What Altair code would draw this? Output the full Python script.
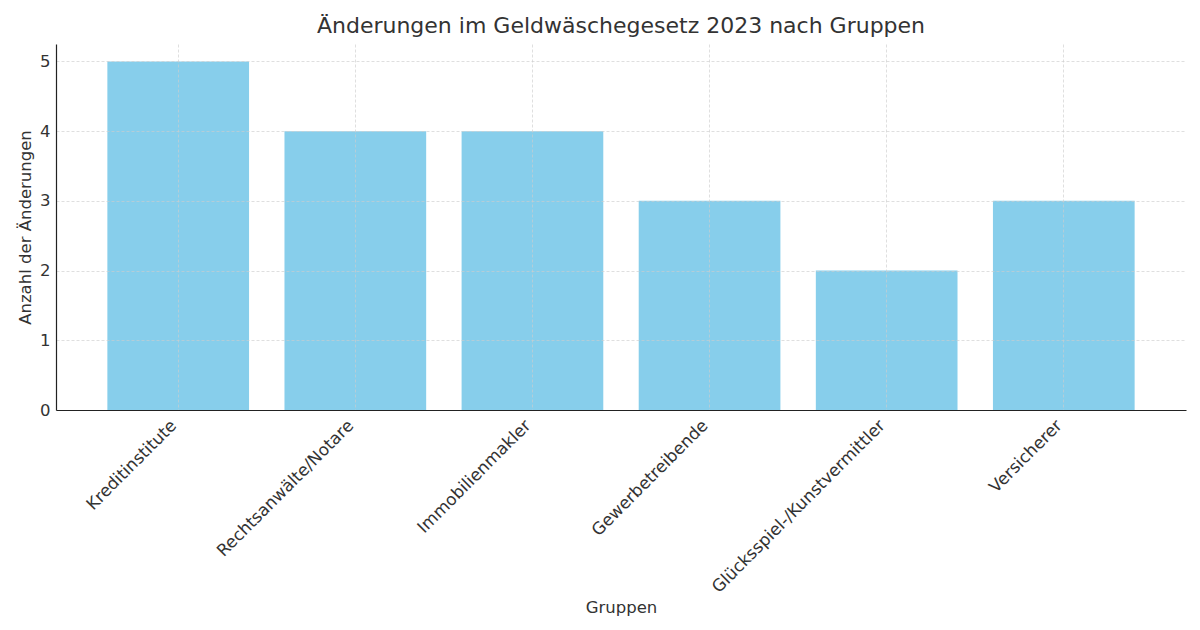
import altair as alt
import pandas as pd

gruppen = ["Kreditinstitute", "Rechtsanwälte/Notare", "Immobilienmakler",
           "Gewerbetreibende", "Glücksspiel-/Kunstvermittler", "Versicherer"]
anzahl = [5, 4, 4, 3, 2, 3]

df = pd.DataFrame({"Gruppe": gruppen, "Anzahl": anzahl})

FONT = "DejaVu Sans"
TXT = "#333333"
FS = 16.5

chart = alt.Chart(df).mark_bar(color="#87CEEB").encode(
    x=alt.X("Gruppe:N", sort=gruppen,
            scale=alt.Scale(paddingInner=0.2, paddingOuter=0.29),
            axis=alt.Axis(title="Gruppen", labelAngle=-45, labelAlign="right",
                          labelBaseline="top", labelFontSize=16.8, labelColor=TXT,
                          labelPadding=7, labelOffset=-10, labelLimit=0,
                          ticks=False, bandPosition=0.5,
                          grid=True, gridDash=[3, 2], gridColor="#cccccc",
                          gridOpacity=0.8, gridWidth=0.8,
                          domainColor="#222222", domainWidth=1.2,
                          titleFontSize=FS, titleFontWeight="normal", titleColor=TXT,
                          titleX=565, titleY=197, titleBaseline="middle",
                          titleAlign="center", zindex=1)),
    y=alt.Y("Anzahl:Q", scale=alt.Scale(domain=[0, 5.25], nice=False),
            axis=alt.Axis(title="Anzahl der Änderungen", values=[0, 1, 2, 3, 4, 5],
                          labelFontSize=FS, labelColor=TXT, labelPadding=6,
                          ticks=False, grid=True, gridDash=[3, 2],
                          gridColor="#cccccc", gridOpacity=0.8, gridWidth=0.8,
                          domainColor="#222222", domainWidth=1.2,
                          titleFontSize=FS, titleFontWeight="normal", titleColor=TXT,
                          titleX=-31, titleY=183, titleAngle=-90,
                          titleBaseline="middle", titleAlign="center", zindex=1)),
).properties(
    width=1130, height=366,
    title=alt.TitleParams("Änderungen im Geldwäschegesetz 2023 nach Gruppen",
                          fontSize=22, fontWeight="normal", color=TXT,
                          font=FONT, anchor="middle", offset=6),
    autosize=alt.AutoSizeParams(type="none"),
    padding={"left": 56, "top": 44, "right": 14, "bottom": 220},
).configure(font=FONT).configure_view(stroke=None)

chart.save("out.html", embed_options={"renderer": "svg", "actions": False})
